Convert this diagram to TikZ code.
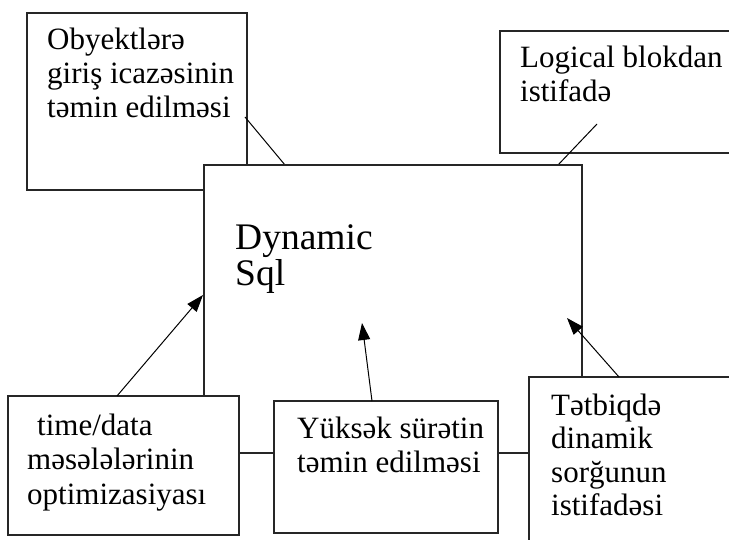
\documentclass[tikz,border=0pt]{standalone}
\usepackage{fontspec}
\setmainfont{Liberation Serif}
\usetikzlibrary{arrows.meta}
% a block of left-aligned lines, #1 apart, whose baseline is that of its first line
\newcommand\stacklines[2]{\vtop{\baselineskip=#1\lineskiplimit=-100pt\lineskip=0pt\halign{##\hfil\cr#2\crcr}}}
\begin{document}
\begin{tikzpicture}[x=1pt,y=-1pt,
  frame/.style={draw=black!85,line width=1.2pt,fill=white,inner sep=0pt,outer sep=0pt,anchor=north west},
  label/.style={anchor=base west,inner sep=0pt,font=\fontsize{31}{34}\selectfont},
  biglabel/.style={anchor=base west,inner sep=0pt,font=\fontsize{37.5}{35}\selectfont},
  link/.style={line width=1pt},
  push/.style={line width=1pt,-{Triangle[length=17pt,width=12pt]}}]
\useasboundingbox (0,0) rectangle (729,540);

% upper boxes
\node[frame,minimum width=220pt,minimum height=177pt] (A) at (27,13) {};
\node[frame,minimum width=260pt,minimum height=122pt] (B) at (500,31) {};
\node[label] (tA) at (47,50) {\stacklines{34pt}{Obyektlərə\cr giriş icazəsinin\cr təmin edilməsi}};
\node[label] (tB) at (520,68) {\stacklines{34pt}{Logical blokdan\cr istifadə}};

% links from the upper boxes to the central box
\coordinate (aFrom) at (245,117);
\coordinate (aTo) at (285,165);
\coordinate (bFrom) at (597,124);
\coordinate (bTo) at (558,165);
\draw[link] (aFrom) -- (aTo);
\draw[link] (bFrom) -- (bTo);

% central box
\node[frame,minimum width=378pt,minimum height=288pt] (M) at (204,165) {};
\node[biglabel] (tM) at (235,250) {\stacklines{36pt}{Dynamic\cr Sql}};

% lower boxes
\node[frame,minimum width=231pt,minimum height=139pt] (C) at (8,396) {};
\node[frame,minimum width=224pt,minimum height=132pt] (D) at (274,401) {};
\node[frame,minimum width=240pt,minimum height=190pt] (E) at (529,377) {};
\node[label] (tC) at (27,435) {\stacklines{35pt}{\hspace*{10pt}time/data\cr məsələlərinin\cr optimizasiyası}};
\node[label] (tD) at (297,438) {\stacklines{34pt}{Yüksək sürətin\cr təmin edilməsi}};
\node[label] (tE) at (551,415) {\stacklines{33.5pt}{Tətbiqdə\cr dinamik\cr sorğunun\cr istifadəsi}};

% arrows from the lower boxes into the central box
\coordinate (cFrom) at (117,396);
\coordinate (cTip) at (203,295);
\coordinate (dFrom) at (372,401);
\coordinate (dTip) at (362,323);
\coordinate (eFrom) at (619,377);
\coordinate (eTip) at (567,318);
\draw[push] (cFrom) -- (cTip);
\draw[push] (dFrom) -- (dTip);
\draw[push] (eFrom) -- (eTip);
\end{tikzpicture}
\end{document}
